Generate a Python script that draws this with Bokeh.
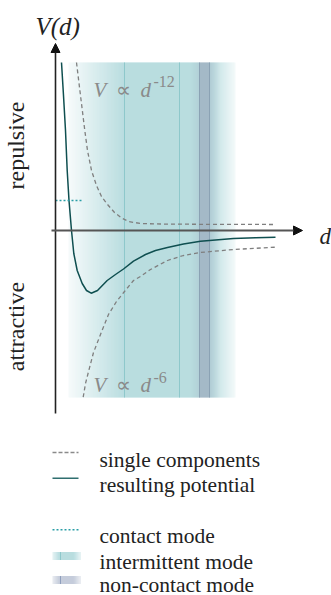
import numpy as np
from bokeh.plotting import figure
from bokeh.models import Range1d, Label, Arrow, NormalHead
from bokeh.embed import file_html
from bokeh.resources import INLINE

# Separation d and potential V(d), arbitrary units
repulsive_d = [1.05, 1.25, 1.465, 1.60, 1.80, 2.05, 2.30, 2.60, 2.95, 3.30, 3.65, 4.25, 5.25, 7.25, 11.0]
repulsive_v = [8.40, 6.75, 5.00, 4.00, 3.00, 2.25, 1.70, 1.30, 0.90, 0.625, 0.45, 0.35, 0.325, 0.31, 0.30]

attractive_d = [1.385, 1.50, 1.665, 1.90, 2.25, 2.65, 3.05, 3.45, 3.90, 4.25, 4.75, 5.60, 6.40, 7.25, 8.90, 11.0]
attractive_v = [-8.335, -7.65, -7.00, -6.10, -5.20, -4.20, -3.55, -3.05, -2.50, -2.30, -1.95, -1.50, -1.25, -1.10, -0.95, -0.835]

total_d = [0.30, 0.40, 0.50, 0.585, 0.675, 0.80, 0.915, 1.085, 1.335, 1.55, 1.785, 2.10, 2.585,
           3.00, 3.40, 3.90, 4.50, 5.00, 5.60, 6.40, 7.25, 8.90, 10.0, 11.0]
total_v = [8.40, 6.75, 5.00, 3.00, 1.50, 0.00, -1.15, -2.00, -2.65, -3.00, -3.135, -3.00, -2.50,
           -2.20, -1.925, -1.535, -1.20, -1.00, -0.85, -0.675, -0.535, -0.40, -0.365, -0.335]

# Operating regimes
contact_level = 1.5
contact_extent = [0.0, 1.4]
intermittent_span = [0.65, 9.0]
intermittent_core = [3.45, 6.2]
noncontact_span = [7.2, 7.7]
regime_band = [-8.35, 8.4]

legend_labels = ["single components", "resulting potential", "contact mode",
                 "intermittent mode", "non-contact mode"]

W, H = 331, 595
SCALE = 20.0          # canvas pixels per unit
OX, OY = 55.0, 230.0  # canvas position of the origin


def X(px):
    return (px - OX) / SCALE


def Y(py):
    return (OY - py) / SCALE


SERIF = "serif"
TEAL = np.array([181, 219, 222])
SLATE = np.array([160, 181, 196])
GREY = "#8a8a8a"
DARK = "#0f4f50"

p = figure(width=W, height=H, x_range=Range1d(X(0), X(W)), y_range=Range1d(Y(H), Y(0)),
           x_axis_type=None, y_axis_type=None, min_border=0, toolbar_location=None,
           output_backend="svg")
p.grid.visible = False
p.outline_line_color = None
p.background_fill_color = "white"
p.border_fill_color = "white"


def blend(base, col, a):
    return base * (1 - a) + col * a


def hexcol(c):
    c = np.clip(np.round(c), 0, 255).astype(int)
    return "#%02x%02x%02x" % tuple(c)


# shaded regime band: intermittent (teal) with the non-contact strip on top
lo, hi = intermittent_span
step = 0.05
left = np.arange(lo, hi - 1e-9, step)
right = np.minimum(left + step * 1.4, hi)
mid = left + step / 2
colors = []
for d in mid:
    if d < intermittent_core[0]:
        a1 = 0.12 + 0.88 * (d - lo) / (intermittent_core[0] - lo)
    elif d <= noncontact_span[1]:
        a1 = 1.0
    else:
        a1 = 1.0 - 0.85 * (d - noncontact_span[1]) / (hi - noncontact_span[1])
    if noncontact_span[0] <= d <= noncontact_span[1]:
        a2 = 1.0
    elif noncontact_span[0] - 0.45 < d < noncontact_span[0]:
        a2 = 0.35 * (d - (noncontact_span[0] - 0.45)) / 0.45
    elif noncontact_span[1] < d < noncontact_span[1] + 0.55:
        a2 = 0.5 * (1 - (d - noncontact_span[1]) / 0.55)
    else:
        a2 = 0.0
    c = blend(np.array([255.0, 255.0, 255.0]), TEAL, a1)
    c = blend(c, SLATE, a2)
    colors.append(hexcol(c))
p.quad(left=left, right=right, bottom=regime_band[0], top=regime_band[1],
       fill_color=colors, line_color=None)

p.segment(x0=intermittent_core, y0=regime_band[0], x1=intermittent_core, y1=regime_band[1],
          line_color="#8ec8cb", line_width=1)
p.segment(x0=noncontact_span, y0=regime_band[0], x1=noncontact_span, y1=regime_band[1],
          line_color="#8ba2b4", line_width=1)

# potential curves
p.line(repulsive_d, repulsive_v, line_color="#7f7f7f", line_width=1.3, line_dash="4 3")
p.line(attractive_d, attractive_v, line_color="#7f7f7f", line_width=1.3, line_dash="4 3")
p.line(total_d, total_v, line_color=DARK, line_width=1.5)
p.line(contact_extent, [contact_level, contact_level], line_color="#2a9ea6",
       line_width=1.6, line_dash="2 2")

# axes with arrow heads
p.add_layout(Arrow(end=NormalHead(size=9, fill_color="#111", line_color="#111"),
                   x_start=X(55), y_start=Y(413), x_end=X(55), y_end=Y(43),
                   line_color="#222", line_width=1.6))
p.add_layout(Arrow(end=NormalHead(size=9, fill_color="#111", line_color="#111"),
                   x_start=X(51), y_start=Y(230), x_end=X(302), y_end=Y(230),
                   line_color="#555", line_width=2))


def label(text, px, py, size, color="#222", style="normal", align="left",
          baseline="alphabetic", angle=0.0):
    p.add_layout(Label(x=X(px), y=Y(py), text=text, text_font=SERIF,
                       text_font_size=f"{size}px", text_color=color,
                       text_font_style=style, text_align=align,
                       text_baseline=baseline, angle=angle))


label("V(d)", 35, 26, 25, style="italic")
label("d", 319, 236, 23, style="italic")
label("repulsive", 15, 145, 24, align="center", baseline="middle", angle=np.pi / 2)
label("attractive", 15, 326, 24, align="center", baseline="middle", angle=np.pi / 2)

# proportionality annotations
for base_y, sup_y, sup in [(89, 81, "-12"), (384, 377, "-6")]:
    label("V", 93, base_y, 21, color=GREY, style="italic")
    label("\u221d", 115, base_y, 21, color=GREY)
    label("d", 140, base_y, 21, color=GREY, style="italic")
    label(sup, 153, sup_y, 16, color=GREY)

# legend
lx0, lx1 = 52, 78
p.line([X(lx0), X(lx1)], [Y(452), Y(452)], line_color="#8a8a8a", line_width=1.3, line_dash="4 2")
p.line([X(lx0), X(lx1)], [Y(477.7), Y(477.7)], line_color="#2f6e6f", line_width=1.6)
p.line([X(lx0), X(lx1)], [Y(529.3), Y(529.3)], line_color="#2a9ea6", line_width=1.6,
       line_dash="2 2")

for yc, col, edge in [(555.5, TEAL, "#8ec8cb"), (579.5, np.array([194, 201, 217]), "#8f9fbd")]:
    sl = np.arange(lx0, lx0 + 28, 1.0)
    cols = []
    for s in sl:
        t = (s - lx0 + 0.5) / 28
        a = min(1.0, t / 0.25, (1 - t) / 0.25)
        cols.append(hexcol(blend(np.array([255.0, 255.0, 255.0]), col, 0.35 + 0.65 * max(a, 0))))
    p.quad(left=[X(s) for s in sl], right=[X(s + 1.4) for s in sl],
           bottom=Y(yc + 4), top=Y(yc - 4), fill_color=cols, line_color=None)
    p.segment(x0=[X(60)], y0=[Y(yc + 4)], x1=[X(60)], y1=[Y(yc - 4)], line_color=edge, line_width=1)

for text, base in zip(legend_labels, [459, 484, 535, 561, 584]):
    label(text, 99, base, 21.5)

open("out.html", "w").write(file_html(p, INLINE))
